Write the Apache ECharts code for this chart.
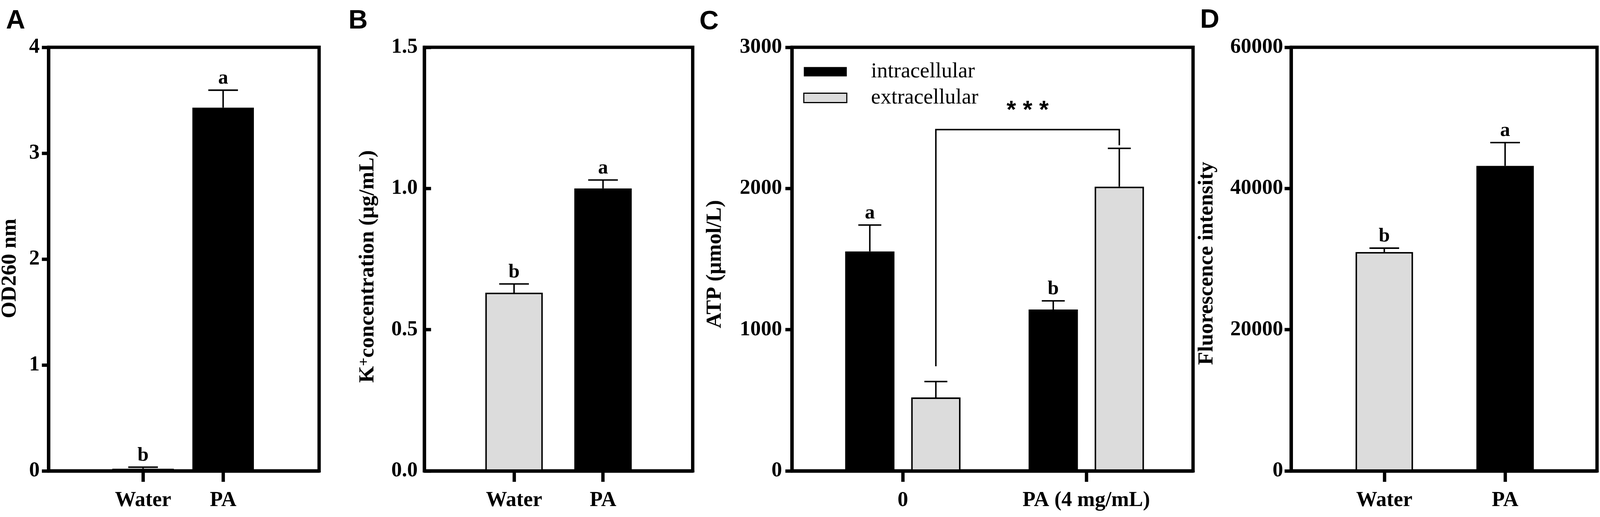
<!DOCTYPE html>
<html>
<head>
<meta charset="utf-8">
<script src="https://cdn.jsdelivr.net/npm/echarts@6/dist/echarts.min.js"></script>
<style>
html,body{margin:0;padding:0;background:#ffffff;overflow:hidden;}
#chart{position:absolute;left:0;top:0;}
</style>
</head>
<body>
<div id="chart"></div>
<script>
// ---------- Panel A ----------
const catsA = ['Water', 'PA'];
const valsA = [0.02, 3.43];
const errsA = [0.015, 0.165];
const lettersA = ['b', 'a'];
const ticksA = [0, 1, 2, 3, 4];

// ---------- Panel B ----------
const catsB = ['Water', 'PA'];
const valsB = [0.631, 1.0];
const errsB = [0.031, 0.03];
const lettersB = ['b', 'a'];
const ticksB = [0, 0.5, 1.0, 1.5];

// ---------- Panel C ----------
const catsC = ['0', 'PA (4 mg/mL)'];
const seriesNamesC = ['intracellular', 'extracellular'];
const intraC = [1554, 1143];
const intraErrC = [187, 61];
const intraLettersC = ['a', 'b'];
const extraC = [520, 2013];
const extraErrC = [113, 271];
const ticksC = [0, 1000, 2000, 3000];
// significance bracket between extracellular bars: [left foot, top, right foot]
const bracketC = [741, 2417, 2306];
const bracketLabelC = '***';

// ---------- Panel D ----------
const catsD = ['Water', 'PA'];
const valsD = [31000, 43200];
const errsD = [550, 3300];
const lettersD = ['b', 'a'];
const ticksD = [0, 20000, 40000, 60000];

const panelLetters = ['A', 'B', 'C', 'D'];

// ---------- layout scaling (design size 4317 x 1323) ----------
const VW = window.innerWidth || document.documentElement.clientWidth || 4317;
const VH = window.innerHeight || document.documentElement.clientHeight || 1323;
const SX = VW / 4317, SY = VH / 1323, S = Math.min(SX, SY);
const X = v => v * SX, Y = v => v * SY, F = v => v * S;

const el = document.getElementById('chart');
el.style.width = VW + 'px';
el.style.height = VH + 'px';

const GRAY = '#dcdcdc';
const BLACK = '#000000';
const SERIF = '"Liberation Serif", "Times New Roman", serif';
const SANS = '"Liberation Sans", Arial, sans-serif';
const LINE = F(9);
const BAR_GAP_C = X(45.2);
const BAR_W_C = X(133);
const OFF_C = (BAR_W_C + BAR_GAP_C) / 2;

const chart = echarts.init(el, null, {renderer: 'canvas', width: VW, height: VH});

function mkGrid(left, width) {
  return {
    left: X(left), top: Y(121), width: X(width), height: Y(1084),
    show: true, borderColor: BLACK, borderWidth: LINE, backgroundColor: 'transparent',
    containLabel: false, outerBoundsMode: 'none'
  };
}

function mkX(gi, cats, min, max) {
  const idx = cats.map((c, i) => i);
  return {
    type: 'value', gridIndex: gi, min: min, max: max, z: 10,
    axisLine: {show: true, onZero: false, lineStyle: {color: BLACK, width: LINE}},
    axisTick: {show: true, customValues: idx, length: Y(28), lineStyle: {color: BLACK, width: LINE}},
    axisLabel: {
      show: true, customValues: idx, margin: Y(49),
      formatter: function (v) { const k = Math.round(v); return cats[k] !== undefined ? cats[k] : ''; },
      fontFamily: SERIF, fontWeight: 'bold', fontSize: F(57), lineHeight: F(57), color: BLACK
    },
    splitLine: {show: false}
  };
}

function mkY(gi, ticks, name, nameGap, shift, inside, margin, fmt, rich) {
  const nts = {
    fontFamily: SERIF, fontWeight: 'bold', fontSize: F(58), lineHeight: F(58), color: BLACK,
    padding: [0, Y(2 * shift), 0, 0]
  };
  if (rich) nts.rich = rich;
  return {
    type: 'value', gridIndex: gi, z: 10,
    min: ticks[0], max: ticks[ticks.length - 1], interval: ticks[1] - ticks[0],
    name: name, nameLocation: 'middle', nameRotate: 90, nameGap: X(nameGap),
    nameTextStyle: nts,
    axisLine: {show: true, onZero: false, lineStyle: {color: BLACK, width: LINE}},
    axisTick: {show: true, inside: inside, length: X(18), lineStyle: {color: BLACK, width: LINE}},
    axisLabel: {
      show: true, margin: X(margin), formatter: fmt,
      fontFamily: SERIF, fontWeight: 'bold', fontSize: F(57), color: BLACK
    },
    splitLine: {show: false}
  };
}

function simpleBars(gi, vals, width) {
  return {
    type: 'bar', xAxisIndex: gi, yAxisIndex: gi, barWidth: X(width), z: 2, silent: true,
    data: vals.map(function (v, i) {
      return {
        value: [i, v],
        itemStyle: i === 0 ? {color: GRAY, borderColor: BLACK, borderWidth: F(4)} : {color: BLACK, borderWidth: 0}
      };
    })
  };
}

function errSeries(gi, vals, errs, letters, offset, capW) {
  return {
    type: 'custom', xAxisIndex: gi, yAxisIndex: gi, z: 5, silent: true,
    data: vals.map(function (v, i) { return [i, v, errs[i]]; }),
    renderItem: function (params, api) {
      const i = params.dataIndex;
      const x = api.value(0), v = api.value(1), e = api.value(2);
      const b = api.coord([x, v]);
      const t = api.coord([x, v + e]);
      const cx = b[0] + offset;
      const children = [
        {type: 'line', shape: {x1: cx, y1: b[1], x2: cx, y2: t[1]}, style: {stroke: BLACK, lineWidth: F(4)}},
        {type: 'line', shape: {x1: cx - X(capW) / 2, y1: t[1], x2: cx + X(capW) / 2, y2: t[1]}, style: {stroke: BLACK, lineWidth: F(4)}}
      ];
      if (letters && letters[i]) {
        children.push({
          type: 'text',
          style: {
            text: letters[i], x: cx, y: t[1] - Y(30), textAlign: 'center', textVerticalAlign: 'middle',
            font: 'bold ' + F(54) + 'px ' + SERIF, fill: BLACK
          }
        });
      }
      return {type: 'group', children: children};
    }
  };
}

const bracketSeries = {
  type: 'custom', xAxisIndex: 2, yAxisIndex: 2, z: 5, silent: true,
  data: [[0, 1, bracketC[0], bracketC[1], bracketC[2]]],
  renderItem: function (params, api) {
    const x0 = api.value(0), x1 = api.value(1);
    const pL = api.coord([x0, api.value(2)]);
    const pTL = api.coord([x0, api.value(3)]);
    const pTR = api.coord([x1, api.value(3)]);
    const pR = api.coord([x1, api.value(4)]);
    const o = OFF_C;
    return {
      type: 'group',
      children: [
        {
          type: 'polyline',
          shape: {points: [[pL[0] + o, pL[1]], [pTL[0] + o, pTL[1]], [pTR[0] + o, pTR[1]], [pR[0] + o, pR[1]]]},
          style: {stroke: BLACK, lineWidth: F(4), fill: null}
        },
        {
          type: 'text',
          style: {
            text: bracketLabelC.split('').join(' '),
            x: (pTL[0] + pTR[0]) / 2 + o, y: pTL[1] - Y(48),
            textAlign: 'center', textVerticalAlign: 'middle',
            font: 'bold ' + F(66) + 'px ' + SANS, fill: BLACK
          }
        }
      ]
    };
  }
};

const fmtInt = function (v) { return String(Math.round(v)); };
const fmtOne = function (v) { return v.toFixed(1); };

const richB = {
  k: {fontFamily: SERIF, fontWeight: 'bold', fontSize: F(58), lineHeight: F(58), color: BLACK},
  s: {fontFamily: SERIF, fontWeight: 'bold', fontSize: F(40), lineHeight: F(4), verticalAlign: 'top', color: BLACK},
  n: {fontFamily: SERIF, fontWeight: 'bold', fontSize: F(58), lineHeight: F(58), color: BLACK}
};

function panelLetter(txt, x, y) {
  return {type: 'text', x: X(x), y: Y(y), style: {text: txt, font: 'bold ' + F(72) + 'px ' + SANS, textAlign: 'center', textVerticalAlign: 'middle', fill: BLACK}};
}

const option = {
  animation: false,
  backgroundColor: '#ffffff',
  textStyle: {fontFamily: SERIF},
  grid: [
    mkGrid(131, 730),
    mkGrid(1145, 724),
    mkGrid(2137, 1082),
    mkGrid(3484, 825)
  ],
  xAxis: [
    mkX(0, catsA, -1.1806, 2.199),
    mkX(1, catsB, -1.008, 2.008),
    mkX(2, catsC, -0.604, 1.582),
    mkX(3, catsD, -0.770, 1.761)
  ],
  yAxis: [
    mkY(0, ticksA, 'OD260 nm', 75, 24, false, 24, fmtInt),
    mkY(1, ticksB, '{k|K}{s|+}{n|concentration (μg/mL)}', 123, 19, true, 18, fmtOne, richB),
    mkY(2, ticksC, 'ATP (μmol/L)', 178, 13, false, 27, fmtInt),
    mkY(3, ticksD, 'Fluorescence intensity', 198, 11, false, 22, fmtInt)
  ],
  legend: {
    orient: 'vertical', left: X(2162), top: Y(151),
    itemWidth: X(116), itemHeight: Y(24), itemGap: Y(12), icon: 'rect', selectedMode: false,
    textStyle: {fontFamily: SERIF, fontSize: F(58), color: BLACK, lineHeight: Y(46), padding: [0, 0, 0, X(60)]},
    data: [
      {name: seriesNamesC[0], itemStyle: {color: BLACK, borderWidth: 0}},
      {name: seriesNamesC[1], itemStyle: {color: GRAY, borderColor: BLACK, borderWidth: F(3)}}
    ]
  },
  graphic: [
    panelLetter(panelLetters[0], 42, 54),
    panelLetter(panelLetters[1], 966, 54),
    panelLetter(panelLetters[2], 1913, 56),
    panelLetter(panelLetters[3], 3264, 52)
  ],
  series: [
    simpleBars(0, valsA, 166),
    errSeries(0, valsA, errsA, lettersA, 0, 80),
    simpleBars(1, valsB, 155),
    errSeries(1, valsB, errsB, lettersB, 0, 80),
    {
      type: 'bar', name: seriesNamesC[0], xAxisIndex: 2, yAxisIndex: 2, barWidth: BAR_W_C,
      barGap: (BAR_GAP_C / BAR_W_C * 100).toFixed(1) + '%', z: 2, silent: true,
      itemStyle: {color: BLACK, borderWidth: 0},
      data: intraC.map(function (v, i) { return [i, v]; })
    },
    {
      type: 'bar', name: seriesNamesC[1], xAxisIndex: 2, yAxisIndex: 2, barWidth: BAR_W_C,
      barGap: (BAR_GAP_C / BAR_W_C * 100).toFixed(1) + '%', z: 2, silent: true,
      itemStyle: {color: GRAY, borderColor: BLACK, borderWidth: F(4)},
      data: extraC.map(function (v, i) { return [i, v]; })
    },
    errSeries(2, intraC, intraErrC, intraLettersC, -OFF_C, 62),
    errSeries(2, extraC, extraErrC, null, OFF_C, 62),
    bracketSeries,
    simpleBars(3, valsD, 155),
    errSeries(3, valsD, errsD, lettersD, 0, 80)
  ]
};

chart.setOption(option);
</script>
</body>
</html>
